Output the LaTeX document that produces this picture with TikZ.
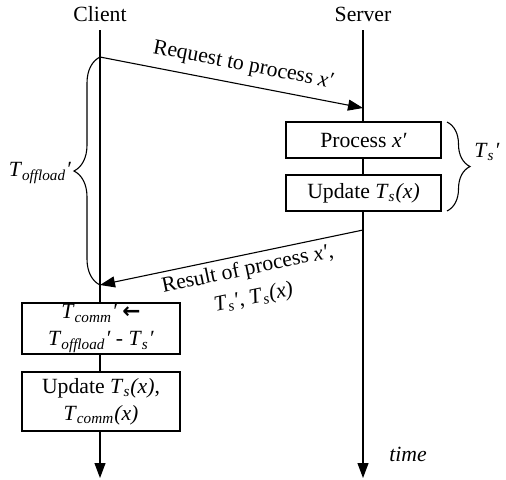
\documentclass[tikz,border=0pt]{standalone}
\usepackage{fontspec}
\setmainfont{Liberation Serif}
\newfontfamily\arrowfont{DejaVu Sans}
\usetikzlibrary{arrows.meta,decorations.pathreplacing}
% italic T with an italic subscript
\newcommand\Tsb[1]{\textit{T}\textsubscript{\textit{#1}}}
\newcommand\prm{\textit{′}}
\begin{document}
\begin{tikzpicture}[x=0.5pt,y=-0.5pt,
  every node/.style={font=\fontsize{10.85}{13.5}\selectfont},
  msg/.style={line width=0.55pt,-{Triangle[length=7.5pt,width=5.5pt]}},
  taskbox/.style={draw,line width=0.65pt,fill=white,inner sep=0pt,align=center},
  bracebar/.style={decorate,line width=0.55pt,decoration={brace,amplitude=#1}},
]
\useasboundingbox (0,0) rectangle (506,479);

% lifelines
\node (client) at (100,14) {Client};
\node (server) at (363,14) {Server};
\coordinate (ctop) at (100,30);
\coordinate (stop) at (363,30);
\coordinate (cend) at (100,478);
\coordinate (send) at (363,478);
\draw[msg] (ctop) -- (cend);
\draw[msg] (stop) -- (send);
\node[font=\fontsize{10.85}{13.5}\selectfont\itshape] (time) at (408,454) {time};

% request message
\coordinate (reqs) at (100,57);
\coordinate (reqe) at (363,108);
\draw[msg] (reqs) -- (reqe)
  node[pos=0.53,sloped,above=1pt] (reqlbl) {Request to process \textit{x}\prm};

% server-side work
\node[taskbox,minimum width=77.5pt,minimum height=18pt] (proc) at (363.5,140) {Process \textit{x}\prm};
\node[taskbox,minimum width=77.5pt,minimum height=18pt] (upd) at (363.5,193) {Update \Tsb{s}\textit{(x)}};
\draw[bracebar=11.5pt] (447,122) -- (447,211);
\node (tslbl) at (487,152) {\Tsb{s}\prm};

% result message
\coordinate (ress) at (363,230);
\coordinate (rese) at (100,285);
\draw[msg] (ress) -- (rese)
  node[pos=0.45,sloped,below=-1pt,align=center,
       font=\fontsize{10.85}{14.5}\selectfont] (reslbl)
  {Result of process \textit{x}\prm,\\\Tsb{s}\prm, \Tsb{s}\textit{(x)}};

% offload interval
\draw[bracebar=13pt] (rese) -- (reqs);
\node (offlbl) at (40,173) {\Tsb{offload}\prm};

% client-side work
\node[taskbox,minimum width=79pt,minimum height=25.5pt] (comm) at (101,328.5)
  {\Tsb{comm}\prm\ {\arrowfont\bfseries ←}\\\Tsb{offload}\prm\ - \Tsb{s}\prm};
\node[taskbox,minimum width=79pt,minimum height=29.5pt] (updc) at (101,401.5)
  {Update \Tsb{s}\textit{(x)},\\\Tsb{comm}\textit{(x)}};
\end{tikzpicture}
\end{document}
